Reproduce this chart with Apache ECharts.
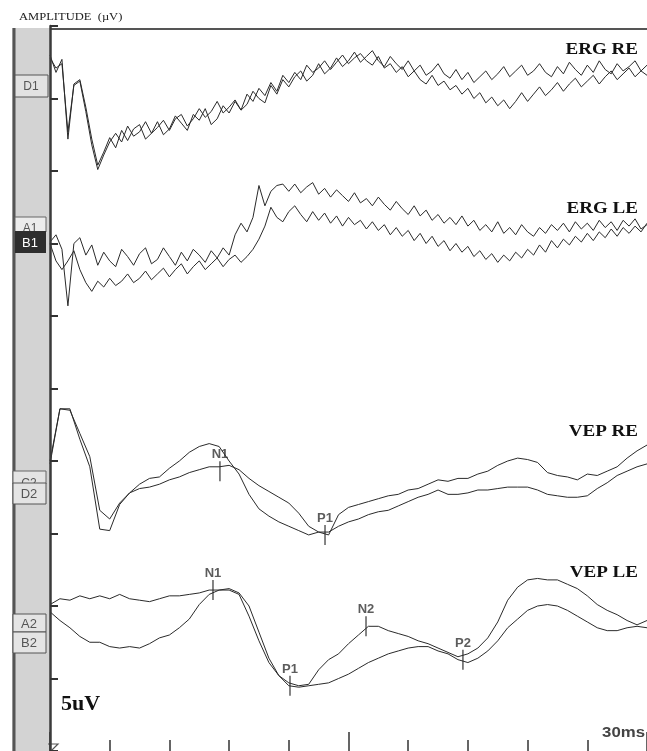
<!DOCTYPE html>
<html>
<head>
<meta charset="utf-8">
<script src="https://cdn.jsdelivr.net/npm/echarts@6/dist/echarts.min.js"></script>
<style>
  html, body { margin: 0; padding: 0; background: #fff; }
  #chart { width: 647px; height: 751px; }
</style>
</head>
<body>
<div id="chart"></div>
<script>
// sampling step of each recording, ms
let ergStep = 3
let vepStep = 5

// amplitudes in uV on the stacked axis (5 uV per division)
let ergRE1 = [43.0, 41.8, 42.7, 37.2, 41.0, 41.3, 39.4, 37.2, 35.4, 36.3,
  37.3, 36.6, 37.8, 37.1, 37.9, 38.2, 37.2, 37.6, 38.4, 37.5,
  37.9, 38.8, 38.3, 37.8, 38.9, 38.5, 39.3, 38.2, 38.6, 39.5,
  39.0, 39.8, 39.2, 39.6, 40.5, 40.0, 39.7, 40.9, 40.3, 41.3,
  40.8, 41.5, 41.9, 41.2, 41.6, 42.4, 41.7, 42.1, 42.8, 42.2,
  42.6, 43.2, 42.5, 42.9, 43.3, 42.6, 42.2, 42.9, 42.4, 42.0,
  42.6, 41.9, 42.3, 41.6, 41.9, 42.4, 41.7, 41.4, 42.0, 41.3,
  41.8, 41.1, 41.5, 41.9, 41.3, 41.7, 42.2, 41.5, 41.9, 42.3,
  41.6, 41.9, 42.4, 41.8, 41.5, 42.2, 41.7, 42.5, 42.0, 41.6,
  42.3, 41.8, 42.6, 42.0, 41.7, 42.4, 41.9, 42.2, 42.6, 41.9, 42.3]
let ergRE2 = [42.8, 42.1, 42.4, 37.7, 40.9, 41.2, 39.1, 36.8, 35.1, 36.1,
  37.0, 37.6, 37.0, 38.1, 37.4, 37.7, 38.4, 37.6, 38.0, 38.5,
  37.8, 38.6, 38.9, 38.1, 38.6, 39.3, 38.7, 39.1, 39.8, 39.0,
  39.4, 39.9, 39.2, 40.3, 39.8, 40.7, 40.2, 41.1, 40.5, 41.6,
  41.1, 41.8, 41.3, 42.3, 41.8, 42.1, 42.6, 42.0, 42.5, 43.0,
  42.4, 42.8, 43.1, 42.6, 42.3, 42.9, 42.1, 42.4, 41.8, 42.2,
  41.5, 41.9, 41.3, 41.0, 41.6, 40.9, 41.2, 40.6, 40.9, 40.3,
  40.7, 40.0, 40.4, 39.7, 40.1, 39.5, 39.9, 39.3, 39.8, 40.4,
  39.8, 40.3, 40.8, 40.2, 40.6, 41.1, 40.5, 41.0, 41.4, 40.8,
  41.2, 41.6, 41.0, 41.5, 41.9, 41.3, 41.7, 42.1, 41.5, 41.9, 41.6]
let ergLE1 = [30.1, 30.6, 29.6, 25.7, 30.0, 30.4, 29.2, 29.9, 28.5, 29.4,
  28.8, 28.4, 29.6, 29.1, 28.5, 29.3, 29.7, 28.6, 28.9, 29.7,
  29.1, 28.5, 29.4, 28.8, 29.6, 29.2, 28.7, 29.5, 29.0, 29.7,
  29.2, 30.6, 31.4, 30.8, 31.8, 34.0, 32.6, 33.6, 34.0, 34.1,
  33.6, 34.1, 33.5, 33.9, 34.2, 33.4, 33.8, 33.2, 33.7, 33.3,
  32.9, 33.5, 32.8, 33.1, 32.6, 33.2, 32.7, 32.3, 32.9, 32.4,
  32.0, 32.6, 31.9, 32.3, 31.6, 32.0, 31.4, 31.8, 31.3, 31.9,
  31.2, 31.6, 30.9, 31.3, 30.8, 31.5, 30.7, 31.1, 30.6, 31.3,
  30.8, 30.5, 31.1, 30.7, 31.3, 30.9, 31.4, 30.8, 31.5, 31.0,
  31.4, 30.9, 31.6, 31.1, 31.5, 30.9, 31.6, 31.2, 31.7, 31.0, 31.3]
let ergLE2 = [30.0, 28.8, 28.2, 28.8, 29.5, 28.2, 27.3, 26.7, 27.4, 27.0,
  27.6, 27.1, 27.4, 27.9, 27.3, 27.6, 28.1, 27.5, 27.9, 28.3,
  27.7, 28.2, 28.6, 27.9, 28.4, 28.8, 28.2, 28.6, 29.0, 28.4,
  28.9, 29.2, 28.7, 29.1, 29.6, 30.3, 31.2, 32.5, 31.8, 31.5,
  32.2, 32.6, 32.0, 31.5, 32.2, 31.6, 32.1, 31.4, 31.9, 31.2,
  31.8, 31.3, 31.6, 31.0, 31.5, 30.9, 31.3, 30.6, 31.1, 30.5,
  30.9, 30.2, 30.7, 30.0, 30.5, 29.8, 30.2, 29.5, 30.0, 29.4,
  29.8, 29.1, 29.5, 28.9, 29.3, 28.7, 29.2, 28.8, 29.4, 29.0,
  29.6, 29.2, 29.9, 29.4, 30.2, 29.7, 30.3, 29.9, 30.5, 30.1,
  30.7, 30.2, 30.8, 30.4, 31.0, 30.5, 31.1, 30.7, 31.2, 30.8, 31.4]
let vepRE1 = [15.0, 18.6, 18.6, 16.5, 14.6, 10.3, 10.2, 12.0, 12.8, 13.4, 13.8, 13.9, 14.5, 15.0, 15.6, 16.0, 16.2, 16.0, 15.0, 14.1,
  12.7, 11.7, 11.2, 10.8, 10.5, 10.2, 9.9, 10.1, 9.9, 11.3, 11.8, 12.0, 12.2, 12.4, 12.6, 12.7, 13.0, 13.1, 13.4, 13.7,
  13.6, 13.8, 13.8, 14.1, 14.3, 14.7, 15.0, 15.2, 15.1, 14.9, 14.2, 14.0, 13.9, 13.7, 14.1, 14.0, 14.3, 14.6, 15.2, 15.7, 16.1]
let vepRE2 = [14.8, 18.6, 18.5, 16.9, 15.3, 11.6, 11.0, 12.1, 12.8, 13.1, 13.2, 13.4, 13.7, 13.9, 14.2, 14.4, 14.6, 14.6, 14.7, 14.4,
  13.8, 13.3, 12.9, 12.5, 12.1, 11.4, 10.5, 10.1, 10.1, 10.5, 10.8, 11.0, 11.3, 11.5, 11.6, 11.9, 12.2, 12.5, 12.7, 13.0,
  12.7, 12.7, 12.8, 13.0, 13.0, 13.1, 13.2, 13.2, 13.2, 13.0, 12.7, 12.6, 12.5, 12.5, 12.6, 13.1, 13.5, 14.0, 14.3, 14.6, 14.8]
let vepLE1 = [5.1, 5.5, 5.4, 5.7, 5.5, 5.7, 5.5, 5.8, 5.5, 5.4, 5.3, 5.5, 5.7, 5.7, 5.8, 5.9, 6.1, 6.1, 6.1, 5.8,
  4.3, 2.6, 1.1, 0.2, -0.3, -0.5, -0.4, 0.6, 1.3, 1.7, 2.4, 3.0, 3.6, 3.6, 3.3, 3.1, 2.9, 2.6, 2.4, 2.1,
  1.8, 1.5, 1.7, 2.1, 2.8, 3.9, 5.4, 6.3, 6.8, 6.9, 6.8, 6.8, 6.5, 6.2, 5.7, 5.1, 4.7, 4.4, 4.0, 3.7, 4.0]
let vepLE2 = [4.6, 4.0, 3.5, 2.9, 2.5, 2.5, 2.2, 2.1, 2.2, 2.1, 2.4, 2.8, 3.0, 3.5, 4.1, 5.1, 5.8, 6.1, 6.2, 5.9,
  5.0, 3.2, 1.4, 0.2, -0.5, -0.6, -0.5, -0.4, -0.3, 0.0, 0.3, 0.7, 1.1, 1.4, 1.7, 1.9, 2.1, 2.2, 2.2, 1.9,
  1.7, 1.3, 1.1, 1.4, 1.9, 2.6, 3.5, 4.1, 4.7, 5.0, 5.1, 5.0, 4.7, 4.3, 3.9, 3.5, 3.3, 3.3, 3.5, 3.6, 3.5]

// cursor marks: [ms, uV]
let peakNames = ['N1', 'P1', 'N1', 'P1', 'N2', 'P2']
let peakTimes = [85.4, 138.2, 81.9, 120.6, 158.8, 207.5]
let peakAmps = [14.3, 9.9, 6.1, -0.5, 3.6, 1.3]

let traceTitles = ['ERG RE', 'ERG LE', 'VEP RE', 'VEP LE']

function pairs(vals, step) {
  return vals.map(function (v, i) { return [i * step, v] })
}

let chart = echarts.init(document.getElementById('chart'))

let traces = [
  [ergRE1, ergStep], [ergRE2, ergStep],
  [ergLE1, ergStep], [ergLE2, ergStep],
  [vepRE1, vepStep], [vepRE2, vepStep],
  [vepLE1, vepStep], [vepLE2, vepStep]
]

let series = traces.map(function (t) {
  return {
    type: 'line',
    data: pairs(t[0], t[1]),
    showSymbol: false,
    lineStyle: { color: '#2a2a2a', width: 1 },
    animation: false
  }
})

series.push({
  type: 'scatter',
  symbol: 'rect',
  symbolSize: [1.5, 20],
  itemStyle: { color: '#333' },
  label: {
    show: true,
    position: 'top',
    distance: 0,
    formatter: '{b}',
    fontFamily: 'Liberation Sans',
    fontWeight: 'bold',
    fontSize: 13,
    color: '#333'
  },
  data: peakNames.map(function (n, i) {
    return { name: n, value: [peakTimes[i], peakAmps[i]] }
  }),
  animation: false
})

let boxText = { fontFamily: 'Liberation Sans', fontSize: 12, fill: '#555', align: 'center', verticalAlign: 'middle' }

let titleY = [50, 209, 432, 573]

let option = {
  backgroundColor: '#fff',
  grid: { left: 50, top: 26, width: 597, height: 727 },
  xAxis: [
    {
      type: 'value', min: 0, max: 300, interval: 30,
      axisLine: { show: false, onZero: false },
      axisTick: { show: true, inside: true, length: 11, lineStyle: { color: '#333', width: 1.5 } },
      axisLabel: { show: false },
      splitLine: { show: false }
    },
    {
      type: 'value', min: 0, max: 300, interval: 150, position: 'bottom',
      axisLine: { show: false, onZero: false },
      axisTick: { show: true, inside: true, length: 19, lineStyle: { color: '#333', width: 1.5 } },
      axisLabel: { show: false },
      splitLine: { show: false }
    }
  ],
  yAxis: {
    type: 'value', min: -5, max: 45, interval: 5, z: 10,
    axisLine: { show: true, lineStyle: { color: '#3a3a3a', width: 2.5 } },
    axisTick: { show: true, inside: true, length: 8, lineStyle: { color: '#333', width: 2 } },
    axisLabel: { show: false },
    splitLine: { show: false }
  },
  graphic: [
    { type: 'rect', shape: { x: 12, y: 28, width: 38, height: 723 }, style: { fill: '#d3d3d3' }, z: -1 },
    { type: 'line', shape: { x1: 14, y1: 28, x2: 14, y2: 751 }, style: { stroke: '#555', lineWidth: 3 } },
    { type: 'line', shape: { x1: 50, y1: 29, x2: 647, y2: 29 }, style: { stroke: '#555', lineWidth: 2 } },
    { type: 'text', x: 19, y: 17, scaleX: 1.14, style: { text: 'AMPLITUDE  (\u00b5V)', font: '11px "Liberation Serif"', fill: '#222', verticalAlign: 'middle' } },

    { type: 'rect', shape: { x: 15, y: 75, width: 33, height: 22 }, style: { fill: '#e2e2e2', stroke: '#555', lineWidth: 1 } },
    { type: 'text', x: 31, y: 87, style: Object.assign({ text: 'D1' }, boxText) },
    { type: 'rect', shape: { x: 15, y: 217, width: 31, height: 15 }, style: { fill: '#ececec', stroke: '#666', lineWidth: 1 } },
    { type: 'text', x: 30, y: 229, style: Object.assign({ text: 'A1' }, boxText) },
    { type: 'rect', shape: { x: 15, y: 231, width: 31, height: 22 }, style: { fill: '#2e2e2e' } },
    { type: 'text', x: 30, y: 243, style: Object.assign({}, boxText, { text: 'B1', fill: '#fff', fontSize: 13 }) },
    { type: 'rect', shape: { x: 13, y: 471, width: 33, height: 13 }, style: { fill: '#e4e4e4', stroke: '#666', lineWidth: 1 } },
    { type: 'text', x: 29, y: 484, style: Object.assign({ text: 'C2' }, boxText) },
    { type: 'rect', shape: { x: 13, y: 483, width: 33, height: 21 }, style: { fill: '#e4e4e4', stroke: '#555', lineWidth: 1 } },
    { type: 'text', x: 29, y: 494, style: Object.assign({}, boxText, { text: 'D2', fontSize: 13 }) },
    { type: 'rect', shape: { x: 13, y: 614, width: 33, height: 18 }, style: { fill: '#e4e4e4', stroke: '#555', lineWidth: 1 } },
    { type: 'text', x: 29, y: 624, style: Object.assign({}, boxText, { text: 'A2', fontSize: 13 }) },
    { type: 'rect', shape: { x: 13, y: 632, width: 33, height: 21 }, style: { fill: '#e4e4e4', stroke: '#555', lineWidth: 1 } },
    { type: 'text', x: 29, y: 643, style: Object.assign({}, boxText, { text: 'B2', fontSize: 13 }) },

    { type: 'polyline', shape: { points: [[48, 744], [58, 744], [51, 751]] }, style: { stroke: '#555', lineWidth: 1.2, fill: null } },
    { type: 'text', x: 61, y: 705, scaleX: 1.05, style: { text: '5uV', font: 'bold 21px "Liberation Serif"', fill: '#111', verticalAlign: 'middle' } },
    { type: 'text', x: 645, y: 733, scaleX: 1.12, style: { text: '30ms', font: 'bold 15px "Liberation Sans"', fill: '#444', align: 'right', verticalAlign: 'middle' } }
  ].concat(traceTitles.map(function (t, i) {
    return {
      type: 'text', x: 638, y: titleY[i], scaleX: 1.12,
      style: { text: t, font: 'bold 17px "Liberation Serif"', fill: '#111', align: 'right', verticalAlign: 'middle' }
    }
  })),
  series: series
}

chart.setOption(option)
</script>
</body>
</html>
